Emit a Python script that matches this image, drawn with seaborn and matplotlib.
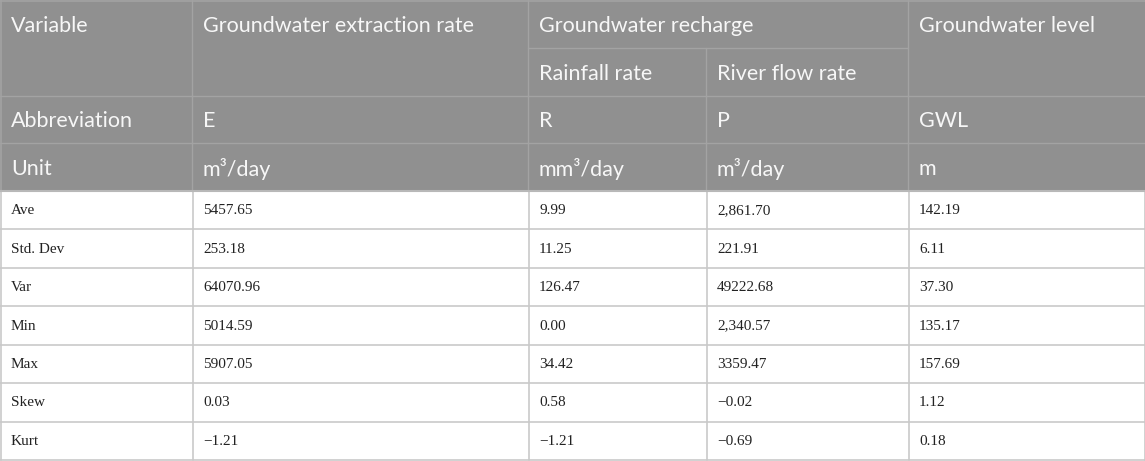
import matplotlib
matplotlib.use("Agg")
import matplotlib.pyplot as plt
import seaborn as sns

sns.set_style("white")

# table content
variables = ["Groundwater extraction rate", "Rainfall rate", "River flow rate", "Groundwater level"]
abbreviations = ["E", "R", "P", "GWL"]
units = ["m³/day", "mm³/day", "m³/day", "m"]
stats = ["Ave", "Std. Dev", "Var", "Min", "Max", "Skew", "Kurt"]
col_E = ["5457.65", "253.18", "64070.96", "5014.59", "5907.05", "0.03", "−1.21"]
col_R = ["9.99", "11.25", "126.47", "0.00", "34.42", "0.58", "−1.21"]
col_P = ["2,861.70", "221.91", "49222.68", "2,340.57", "3359.47", "−0.02", "−0.69"]
col_GWL = ["142.19", "6.11", "37.30", "135.17", "157.69", "1.12", "0.18"]

W, H = 1145, 461
xs = [0, 192, 528, 706, 908, 1145]        # column edges
hy = [0, 48, 96, 143, 191]                # header row edges
body_h = (460 - 191) / len(stats)

head_bg = "#909090"
head_line = "#a3a3a3"
body_line = "#c9c9c9"
head_txt = "#f7f7f7"
body_txt = "#222222"
pad = 11

fig = plt.figure(figsize=(W / 100, H / 100), dpi=100)
ax = fig.add_axes([0, 0, 1, 1])
ax.set_xlim(0, W)
ax.set_ylim(H, 0)
ax.axis("off")

# header background
ax.fill_between([0, W], 0, hy[-1], color=head_bg, lw=0)

hfont = dict(family="Lato", size=15.5, color=head_txt, va="center", ha="left")
bfont = dict(family="Liberation Serif", size=11, color=body_txt, va="center", ha="left")

# header lines
ax.plot([0, W], [0.8, 0.8], color=head_line, lw=1.2)
ax.plot([0.8, 0.8], [0, hy[-1]], color=head_line, lw=1.2)
ax.plot([xs[2], xs[4]], [hy[1], hy[1]], color=head_line, lw=1)
for y in hy[2:4]:
    ax.plot([0, W], [y, y], color=head_line, lw=1)
for x in xs[1:5]:
    if x == xs[3]:
        ax.plot([x, x], [hy[1], hy[-1]], color=head_line, lw=1)
    else:
        ax.plot([x, x], [0, hy[-1]], color=head_line, lw=1)

# header text
ty = 1.5
ax.text(xs[0] + pad, (hy[0] + hy[1]) / 2 + ty, "Variable", **hfont)
ax.text(xs[1] + pad, (hy[0] + hy[1]) / 2 + ty, variables[0], **hfont)
ax.text(xs[2] + pad, (hy[0] + hy[1]) / 2 + ty, "Groundwater recharge", **hfont)
ax.text(xs[2] + pad, (hy[1] + hy[2]) / 2 + ty, variables[1], **hfont)
ax.text(xs[3] + pad, (hy[1] + hy[2]) / 2 + ty, variables[2], **hfont)
ax.text(xs[4] + pad, (hy[0] + hy[1]) / 2 + ty, variables[3], **hfont)

ax.text(xs[0] + pad, (hy[2] + hy[3]) / 2 + ty, "Abbreviation", **hfont)
ax.text(xs[0] + pad, (hy[3] + hy[4]) / 2 + ty, "Unit", **hfont)
for i in range(4):
    ax.text(xs[i + 1] + pad, (hy[2] + hy[3]) / 2 + ty, abbreviations[i], **hfont)
    ax.text(xs[i + 1] + pad, (hy[3] + hy[4]) / 2 + ty, units[i], **hfont)

# body
cols = [stats, col_E, col_R, col_P, col_GWL]
for r in range(len(stats)):
    y0 = hy[-1] + r * body_h
    for c, vals in enumerate(cols):
        ax.text(xs[c] + pad, y0 + body_h / 2 + 0.5, vals[r], **bfont)
    ax.plot([0, W], [y0 + body_h, y0 + body_h], color=body_line, lw=1.2)

for x in xs[:5]:
    ax.plot([x + 0.5, x + 0.5], [hy[-1], hy[-1] + len(stats) * body_h], color=body_line, lw=1.2)
ax.plot([W - 0.5, W - 0.5], [hy[-1], hy[-1] + len(stats) * body_h], color=body_line, lw=1.2)
ax.plot([0, W], [hy[-1] + 0.5, hy[-1] + 0.5], color="#b8b8b8", lw=1.5)

fig.savefig("out.png", dpi=100)
